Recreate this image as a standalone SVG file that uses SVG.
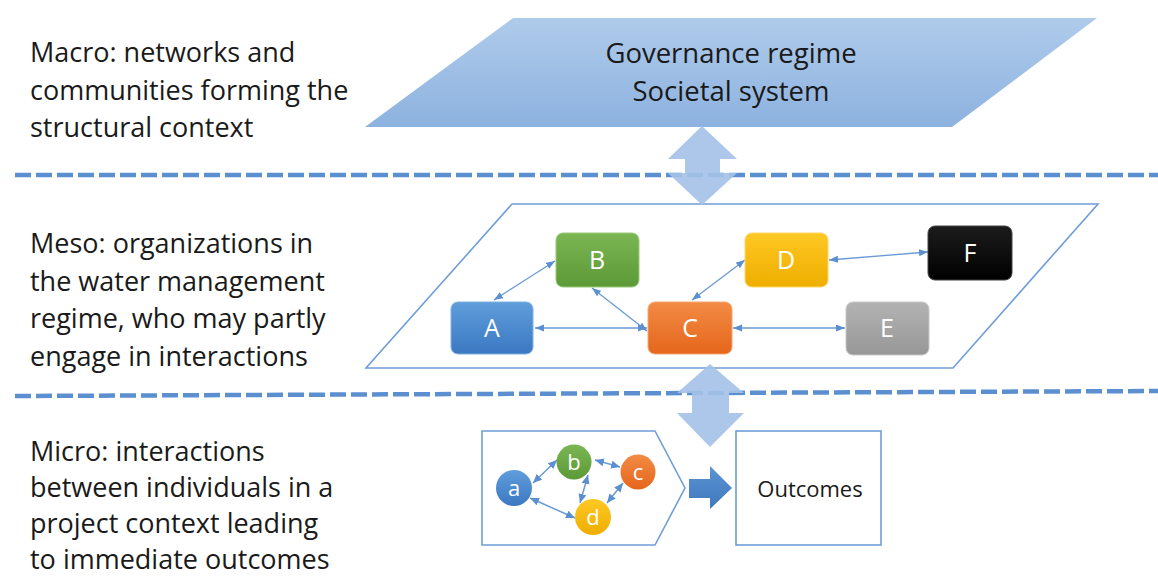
<svg xmlns="http://www.w3.org/2000/svg" width="1158" height="577" viewBox="0 0 1158 577">
  <style>
    .lbl { font-family: "Open Sans", "Noto Sans", sans-serif; font-size: 27px; fill: #1a1a1a; }
    .title { font-family: "Open Sans", "Noto Sans", sans-serif; font-size: 27.5px; fill: #1a1a1a; text-anchor: middle; }
    .node-t { font-family: "Open Sans", "Noto Sans", sans-serif; font-size: 25px; fill: #ffffff; text-anchor: middle; }
    .circ-t { font-family: "Open Sans", "Noto Sans", sans-serif; font-size: 22px; fill: #ffffff; text-anchor: middle; }
    .out-t { font-family: "Open Sans", "Noto Sans", sans-serif; font-size: 22px; fill: #1a1a1a; text-anchor: middle; }
    .dash { stroke: #5b8fd0; stroke-width: 4.5; stroke-dasharray: 16 5; fill: none; }
    .frame { fill: #ffffff; stroke: #6f9ed8; stroke-width: 1.6; }
    .link { stroke: #6a9bd5; stroke-width: 1.3; fill: none; marker-start: url(#tip); marker-end: url(#tip); }
    .link-s { stroke: #6a9bd5; stroke-width: 1.5; fill: none; marker-start: url(#tip2); marker-end: url(#tip2); }
    .big { fill: #a5c2e7; fill-opacity: 0.92; }
  </style>
  <defs>
    <linearGradient id="gTop" x1="0" y1="0" x2="0" y2="1">
      <stop offset="0" stop-color="#afcbeb"/>
      <stop offset="1" stop-color="#8db2df"/>
    </linearGradient>
    <linearGradient id="gA" x1="0" y1="0" x2="0" y2="1">
      <stop offset="0" stop-color="#5f9ddb"/>
      <stop offset="1" stop-color="#3b78c2"/>
    </linearGradient>
    <linearGradient id="gB" x1="0" y1="0" x2="0" y2="1">
      <stop offset="0" stop-color="#7bb653"/>
      <stop offset="1" stop-color="#5c9a37"/>
    </linearGradient>
    <linearGradient id="gC" x1="0" y1="0" x2="0" y2="1">
      <stop offset="0" stop-color="#f38b45"/>
      <stop offset="1" stop-color="#e5661b"/>
    </linearGradient>
    <linearGradient id="gD" x1="0" y1="0" x2="0" y2="1">
      <stop offset="0" stop-color="#ffc824"/>
      <stop offset="1" stop-color="#eeae00"/>
    </linearGradient>
    <linearGradient id="gE" x1="0" y1="0" x2="0" y2="1">
      <stop offset="0" stop-color="#b3b3b3"/>
      <stop offset="1" stop-color="#979797"/>
    </linearGradient>
    <linearGradient id="gF" x1="0" y1="0" x2="0" y2="1">
      <stop offset="0" stop-color="#1c1c1c"/>
      <stop offset="1" stop-color="#000000"/>
    </linearGradient>
    <linearGradient id="gArrow" x1="0" y1="0" x2="0" y2="1">
      <stop offset="0" stop-color="#5b93d3"/>
      <stop offset="1" stop-color="#3f78bd"/>
    </linearGradient>
    <marker id="tip" markerUnits="userSpaceOnUse" markerWidth="10" markerHeight="8" refX="9" refY="3.5" orient="auto-start-reverse">
      <path d="M0,0 L9,3.5 L0,7 Z" fill="#5b8fd0"/>
    </marker>
    <marker id="tip2" markerUnits="userSpaceOnUse" markerWidth="10" markerHeight="9" refX="9" refY="4" orient="auto-start-reverse">
      <path d="M0,0 L9,4 L0,8 Z" fill="#5b8fd0"/>
    </marker>
  </defs>

  <!-- level descriptions -->
  <g id="label-macro">
    <text class="lbl" x="30" y="62">Macro: networks and</text>
    <text class="lbl" x="30" y="100">communities forming the</text>
    <text class="lbl" x="30" y="137">structural context</text>
  </g>
  <g id="label-meso">
    <text class="lbl" x="30" y="253">Meso: organizations in</text>
    <text class="lbl" x="30" y="291">the water management</text>
    <text class="lbl" x="30" y="328">regime, who may partly</text>
    <text class="lbl" x="30" y="366">engage in interactions</text>
  </g>
  <g id="label-micro">
    <text class="lbl" x="30" y="461">Micro: interactions</text>
    <text class="lbl" x="30" y="497">between individuals in a</text>
    <text class="lbl" x="30" y="533">project context leading</text>
    <text class="lbl" x="30" y="569">to immediate outcomes</text>
  </g>

  <!-- level separators -->
  <g id="separators">
    <line class="dash" x1="15" y1="175" x2="1158" y2="175"/>
    <line class="dash" x1="15" y1="396" x2="1158" y2="391"/>
  </g>

  <!-- macro level -->
  <g id="macro">
    <polygon points="513,18 1097,18 952,127 365,127" fill="url(#gTop)"/>
    <text class="title" x="731" y="63">Governance regime</text>
    <text class="title" x="731" y="101">Societal system</text>
  </g>

  <!-- meso level frame -->
  <g id="meso-frame">
    <polygon class="frame" points="512,204 1098,204 953,368 366,368"/>
  </g>

  <!-- macro/meso and meso/micro exchange arrows -->
  <g id="exchange-top">
    <path class="big" d="M702,126 L737,159 L720,159 L720,173 L737,173 L702,205 L668,173 L685,173 L685,159 L668,159 Z"/>
  </g>
  <g id="exchange-bottom">
    <path class="big" d="M710,364 L744,393 L729,393 L729,413 L744,413 L710,447 L677,413 L692,413 L692,393 L677,393 Z"/>
  </g>

  <!-- meso connectors -->
  <g id="meso-links">
    <line class="link" x1="494" y1="300" x2="555" y2="261"/>
    <line class="link" x1="592" y1="288" x2="647" y2="331"/>
    <line class="link" x1="535" y1="328" x2="647" y2="328"/>
    <line class="link" x1="692" y1="300" x2="745" y2="260"/>
    <line class="link" x1="733" y1="328" x2="845" y2="328"/>
    <line class="link" x1="829" y1="260" x2="928" y2="252"/>
  </g>

  <!-- organizations -->
  <g id="org-A">
    <rect x="451" y="302" width="82" height="52" rx="7" fill="url(#gA)" stroke="#7fb1e3" stroke-width="1"/>
    <text class="node-t" x="492" y="337">A</text>
  </g>
  <g id="org-B">
    <rect x="556" y="233" width="83" height="54" rx="7" fill="url(#gB)" stroke="#9acb7a" stroke-width="1"/>
    <text class="node-t" x="597" y="269">B</text>
  </g>
  <g id="org-C">
    <rect x="648" y="302" width="84" height="52" rx="7" fill="url(#gC)" stroke="#f6a672" stroke-width="1"/>
    <text class="node-t" x="690" y="337">C</text>
  </g>
  <g id="org-D">
    <rect x="745" y="233" width="83" height="54" rx="7" fill="url(#gD)" stroke="#ffd766" stroke-width="1"/>
    <text class="node-t" x="786" y="269">D</text>
  </g>
  <g id="org-E">
    <rect x="846" y="302" width="83" height="53" rx="7" fill="url(#gE)" stroke="#c8c8c8" stroke-width="1"/>
    <text class="node-t" x="887" y="337">E</text>
  </g>
  <g id="org-F">
    <rect x="928" y="226" width="84" height="54" rx="7" fill="url(#gF)" stroke="#444444" stroke-width="1"/>
    <text class="node-t" x="970" y="262">F</text>
  </g>

  <!-- micro level -->
  <g id="micro-frame">
    <path class="frame" d="M482,431 L655,431 L685,488 L655,545 L482,545 Z"/>
  </g>
  <g id="micro-links">
    <line class="link-s" x1="533" y1="483" x2="557" y2="460"/>
    <line class="link-s" x1="595" y1="460" x2="620" y2="467"/>
    <line class="link-s" x1="588" y1="475" x2="580" y2="503"/>
    <line class="link-s" x1="623" y1="483" x2="607" y2="503"/>
    <line class="link-s" x1="530" y1="498" x2="575" y2="518"/>
  </g>
  <g id="ind-a">
    <circle cx="514" cy="488" r="18" fill="url(#gA)"/>
    <text class="circ-t" x="514" y="496">a</text>
  </g>
  <g id="ind-b">
    <circle cx="574" cy="462" r="17.5" fill="url(#gB)"/>
    <text class="circ-t" x="574" y="470">b</text>
  </g>
  <g id="ind-c">
    <circle cx="638" cy="472" r="17.5" fill="url(#gC)"/>
    <text class="circ-t" x="638" y="480">c</text>
  </g>
  <g id="ind-d">
    <circle cx="593" cy="517" r="18" fill="url(#gD)"/>
    <text class="circ-t" x="593" y="525">d</text>
  </g>

  <g id="to-outcomes">
    <path d="M689,479 L710,479 L710,466 L732,488 L710,509 L710,498 L689,498 Z" fill="url(#gArrow)"/>
  </g>
  <g id="outcomes">
    <rect class="frame" x="736" y="431" width="145" height="114"/>
    <text class="out-t" x="810" y="497">Outcomes</text>
  </g>
</svg>
